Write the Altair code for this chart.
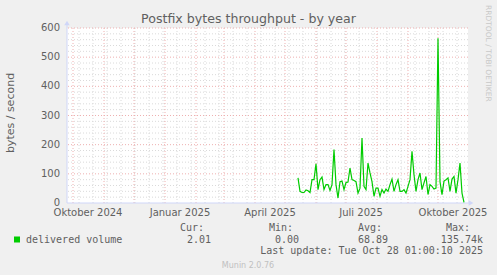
import altair as alt
import pandas as pd

# ---- data ----
series_start = "2025-05-14"
delivered = [86, 40, 36, 36, 45, 42, 36, 80, 80, 134, 46, 80, 89, 46, 63, 63, 43, 63,
             183, 63, 17, 73, 75, 46, 70, 72, 120, 80, 77, 73, 34, 51, 223, 57, 46, 137,
             103, 73, 23, 51, 51, 23, 46, 34, 48, 40, 63, 82, 40, 63, 80, 40, 40, 46,
             34, 57, 80, 177, 97, 40, 80, 103, 46, 69, 91, 29, 63, 57, 48, 51, 565, 73,
             29, 75, 80, 86, 40, 82, 91, 34, 80, 137, 34, 2]
tick_dates = ["2024-10-16", "2025-01-16", "2025-04-16", "2025-07-16", "2025-10-16"]
tick_labels = ["Oktober 2024", "Januar 2025", "April 2025", "Juli 2025", "Oktober 2025"]
y_ticks = [0, 100, 200, 300, 400, 500, 600]
legend_name = "delivered volume"
stat_heads = ["Cur:", "Min:", "Avg:", "Max:"]
stat_vals = ["2.01", "0.00", "68.89", "135.74k"]
title_text = "Postfix bytes throughput - by year"
y_title = "bytes / second"
last_update = "Last update: Tue Oct 28 01:00:10 2025"
footer = "Munin 2.0.76"
side_text = "RRDTOOL / TOBI OETIKER"

# ---- tables ----
df = pd.DataFrame({
    "date": pd.date_range(series_start, periods=len(delivered), freq="2D").strftime("%Y-%m-%d"),
    "value": delivered,
})
W, H = 401, 175
x_dom = ["2024-09-25", "2025-10-31"]
xs = alt.Scale(domain=x_dom)
ys = alt.Scale(domain=[0, 600], nice=False)

h_minor = pd.DataFrame({"v": [v for v in range(20, 600, 20) if v % 100]})
h_major = pd.DataFrame({"v": [100, 200, 300, 400, 500, 600]})
v_minor = pd.DataFrame({"d": pd.date_range("2024-10-07", "2025-10-30", freq="14D").strftime("%Y-%m-%d")})
v_major = pd.DataFrame({"d": pd.date_range("2024-10-01", "2025-10-01", freq="MS").strftime("%Y-%m-%d")})

GREY = "#dadada"
RED = "#eeb0b0"
AXIS = "#CFD6F8"
FONT = "#606060"

grid_h_minor = alt.Chart(h_minor).mark_rule(color=GREY, strokeDash=[1, 2], strokeWidth=1).encode(
    y=alt.Y("v:Q", scale=ys, axis=None))
grid_h_major = alt.Chart(h_major).mark_rule(color=RED, strokeDash=[1, 2], strokeWidth=1).encode(
    y=alt.Y("v:Q", scale=ys, axis=None))
grid_v_minor = alt.Chart(v_minor).mark_rule(color=GREY, strokeDash=[1, 2], strokeWidth=1).encode(
    x=alt.X("d:T", scale=xs, axis=None))
grid_v_major = alt.Chart(v_major).mark_rule(color=RED, strokeDash=[1, 2], strokeWidth=1).encode(
    x=alt.X("d:T", scale=xs, axis=None))

one = pd.DataFrame({"t": [""]})
x_axis_line = alt.Chart(one).mark_rule(color=AXIS, strokeWidth=1).encode(
    x=alt.value(0), x2=alt.value(W + 2), y=alt.value(H))
y_axis_line = alt.Chart(one).mark_rule(color=AXIS, strokeWidth=1).encode(
    x=alt.value(0), y=alt.value(-3), y2=alt.value(H))
x_arrow = alt.Chart(one).mark_point(shape="triangle-right", filled=True, color=AXIS, size=30, opacity=1).encode(
    x=alt.value(W + 3), y=alt.value(H))
y_arrow = alt.Chart(one).mark_point(shape="triangle-up", filled=True, color=AXIS, size=30, opacity=1).encode(
    x=alt.value(0), y=alt.value(-5))

line = alt.Chart(df).mark_line(color="#00cc00", strokeWidth=1.2).encode(
    x=alt.X("date:T", scale=xs, axis=None),
    y=alt.Y("value:Q", scale=ys, axis=None))

xlab_df = pd.DataFrame({"d": tick_dates, "t": tick_labels})
x_labels = alt.Chart(xlab_df).mark_text(font="DejaVu Sans", fontSize=10, color=FONT,
                                        align="center", baseline="alphabetic").encode(
    x=alt.X("d:T", scale=xs, axis=None), y=alt.value(187.5), text="t:N")

ylab_df = pd.DataFrame({"v": y_ticks, "t": [str(v) for v in y_ticks]})
y_labels = alt.Chart(ylab_df).mark_text(font="DejaVu Sans", fontSize=10, color=FONT,
                                        align="right", baseline="middle").encode(
    y=alt.Y("v:Q", scale=ys, axis=None), x=alt.value(-7), text="t:N")


def txt(s, x, y, size=10, font="DejaVu Sans Mono", align="left", baseline="alphabetic",
        color=FONT, angle=0):
    kw = dict(font=font, fontSize=size, color=color, align=align, baseline=baseline)
    if angle:
        kw["angle"] = angle
    return alt.Chart(pd.DataFrame({"t": [s]})).mark_text(**kw).encode(
        x=alt.value(x), y=alt.value(y), text="t:N")


texts = [
    txt(title_text, 181.5, -5.5, size=12.6, font="DejaVu Sans", align="center"),
    txt(y_title, -56, 85, size=11, font="DejaVu Sans", align="center", baseline="middle", angle=270),
    txt(side_text, 421, -23, size=7.5, font="DejaVu Sans", align="left", baseline="middle",
        color="#c8c8c8", angle=90),
    txt(legend_name, -41, 214.5),
    txt(last_update, 416, 226, align="right"),
    txt(footer, 181, 239.5, size=8, font="DejaVu Sans", align="center", color="#c0c0c0"),
]
head_x = [137, 226, 315, 403]
val_x = [144, 232, 321, 416]
for h, hx in zip(stat_heads, head_x):
    texts.append(txt(h, hx, 203, align="right"))
for v, vx in zip(stat_vals, val_x):
    texts.append(txt(v, vx, 214.5, align="right"))

legend_sq = alt.Chart(one).mark_square(color="#00cc00", size=36, opacity=1).encode(
    x=alt.value(-50), y=alt.value(211.5))

chart = alt.layer(
    grid_h_minor, grid_v_minor, grid_h_major, grid_v_major,
    x_axis_line, y_axis_line, x_arrow, y_arrow,
    line, x_labels, y_labels, legend_sq, *texts
).properties(
    width=W, height=H,
    padding={"left": 67, "top": 28, "right": 29, "bottom": 72},
    autosize=alt.AutoSizeParams(type="none"),
    background="#f0f0f0",
).configure_view(fill="white", stroke=None)

chart.save("out.html", embed_options={"renderer": "svg", "actions": False})
